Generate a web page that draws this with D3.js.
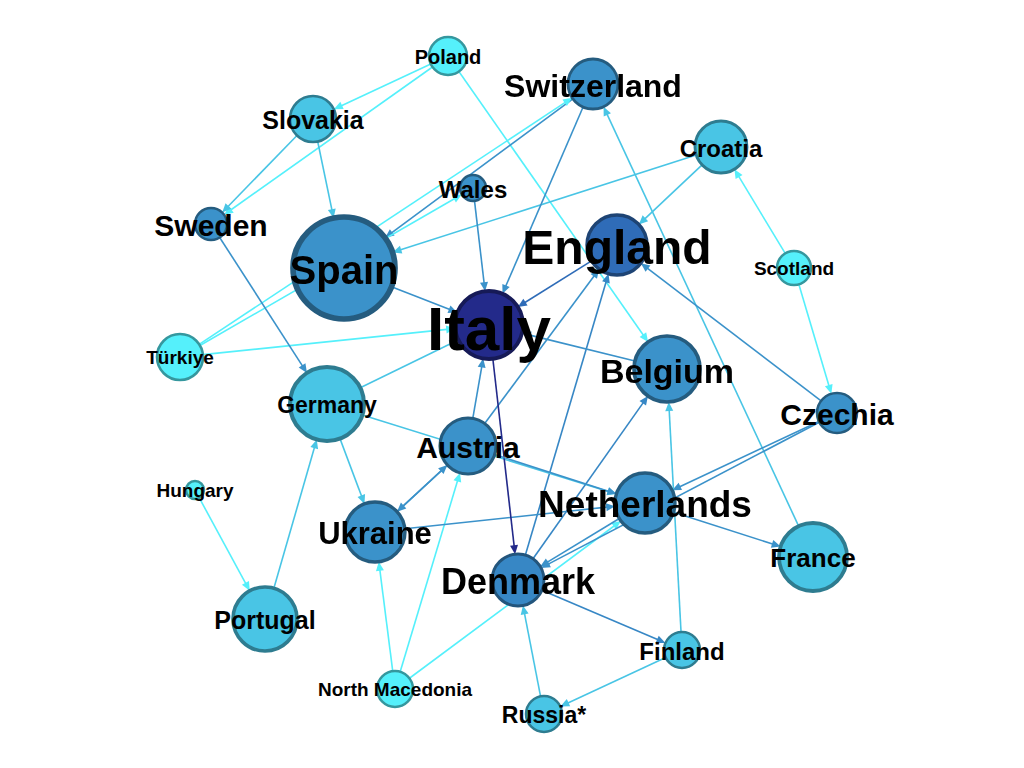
<!DOCTYPE html>
<html>
<head>
<meta charset="utf-8">
<script src="https://cdn.jsdelivr.net/npm/d3@7"></script>
<style>
  body { margin: 0; background: #fff; }
  text { font-family: "Liberation Sans", Arial, sans-serif; font-weight: bold; }
</style>
</head>
<body>
<div id="chart"></div>
<script>
// nodes
const names = ["Poland","Switzerland","Slovakia","Croatia","Wales","Sweden","Spain","England","Scotland",
  "Italy","Türkiye","Belgium","Germany","Czechia","Austria","Hungary","Netherlands","Ukraine","France",
  "Denmark","Portugal","Finland","North Macedonia","Russia*"];
// layout coordinates (force layout output, 0..1024 x 0..768 space)
const layoutX = [448,593,313,721,473,211,344,617,794,489,180,667,327,837,468,195,645,375,813,518,265,682,395,544];
const layoutY = [56,84,119,147,188,224,268,245,268,325,357,369,404,413,446,490,503,532,557,580,619,650,689,714];
// node size (weighted degree) and colour level (centrality)
const nodeSize = [19,25,23,26,13,16,51,30,17,34,23,33,37,20,28,9,30,30,34,26,32,18,18,18];
const colorLevel = [0,2,1,1,2,2,2,3,0,4,0,2,1,2,2,0,2,2,1,2.3,1,1,0,1];
const labelSize = [20,32,25,24,24,30,40,48,19,62,19,34,23,30,30,19,37,31,26,36,25,24,19,23];
const edgeSource = ["Poland","Poland","Poland","Slovakia","Slovakia","Switzerland","Türkiye","Türkiye","Croatia","Croatia",
  "Scotland","Scotland","Wales","Switzerland","France","England","Austria","Czechia","Denmark","Belgium","Spain","Türkiye",
  "Germany","Sweden","Germany","Germany","Portugal","Hungary","North Macedonia","North Macedonia","North Macedonia",
  "Ukraine","Austria","Ukraine","Austria","Italy","Denmark","Netherlands","Czechia","Czechia","Netherlands","Finland",
  "Denmark","Finland","Russia*","Austria"];
const edgeTarget = ["Slovakia","Sweden","Belgium","Sweden","Spain","Spain","Switzerland","Wales","Spain","England",
  "Croatia","Czechia","Italy","Italy","Switzerland","Italy","England","England","England","Italy","Italy","Italy",
  "Italy","Germany","Ukraine","Netherlands","Germany","Portugal","Ukraine","Austria","Netherlands",
  "Austria","Ukraine","Netherlands","Italy","Denmark","Belgium","Denmark","Netherlands","Denmark","France","Belgium",
  "Finland","Russia*","Denmark","Netherlands"];

const W = 1024, H = 768;
const x = d3.scaleLinear().domain([0, 1024]).range([0, W]);
const y = d3.scaleLinear().domain([0, 768]).range([0, H]);
const r = d3.scaleLinear().domain([0, 50]).range([0, 50]);
const fill = d3.scaleLinear().domain([0, 1, 2, 3, 4])
  .range(["#55f0fb", "#49c5e5", "#3b92ca", "#2f6cb8", "#232a8a"]);

const nodes = names.map((n, i) => ({ name: n, x: x(layoutX[i]), y: y(layoutY[i]),
  r: r(nodeSize[i]), c: fill(colorLevel[i]), fs: labelSize[i] }));
const byName = new Map(nodes.map(d => [d.name, d]));
const links = edgeSource.map((s, i) => ({ s: byName.get(s), t: byName.get(edgeTarget[i]) }));

const svg = d3.select("#chart").append("svg").attr("width", W).attr("height", H);
const defs = svg.append("defs");
defs.append("filter").attr("id", "blur").append("feGaussianBlur").attr("stdDeviation", 0.6);

// edges
const eg = svg.append("g");
links.forEach((l, i) => {
  const dx = l.t.x - l.s.x, dy = l.t.y - l.s.y, len = Math.hypot(dx, dy);
  const ux = dx / len, uy = dy / len;
  const x1 = l.s.x + ux * l.s.r, y1 = l.s.y + uy * l.s.r;
  const x2 = l.t.x - ux * l.t.r, y2 = l.t.y - uy * l.t.r;
  const col = l.s.c;
  eg.append("line").attr("x1", x1).attr("y1", y1).attr("x2", x2 - ux * 6).attr("y2", y2 - uy * 6)
    .attr("stroke", col).attr("stroke-width", 1.6);
  const a = 9, w = 4;
  const bx = x2 - ux * a, by = y2 - uy * a;
  eg.append("path")
    .attr("d", `M${x2},${y2}L${bx - uy * w},${by + ux * w}L${bx + uy * w},${by - ux * w}Z`)
    .attr("fill", col);
});

// nodes
svg.append("g").selectAll("circle").data(nodes).join("circle")
  .attr("cx", d => d.x).attr("cy", d => d.y).attr("r", d => d.r)
  .attr("fill", d => d.c)
  .attr("stroke", d => d3.color(d.c).darker(1.3))
  .attr("stroke-width", d => Math.max(2.5, d.r / 9));

// labels
svg.append("g").selectAll("text").data(nodes).join("text")
  .attr("x", d => d.x).attr("y", d => d.y + d.fs * 0.05)
  .attr("text-anchor", "middle").attr("dominant-baseline", "central")
  .attr("font-size", d => d.fs).attr("fill", "#000")
  .attr("filter", d => d.fs > 30 ? "url(#blur)" : null)
  .text(d => d.name);
</script>
</body>
</html>
